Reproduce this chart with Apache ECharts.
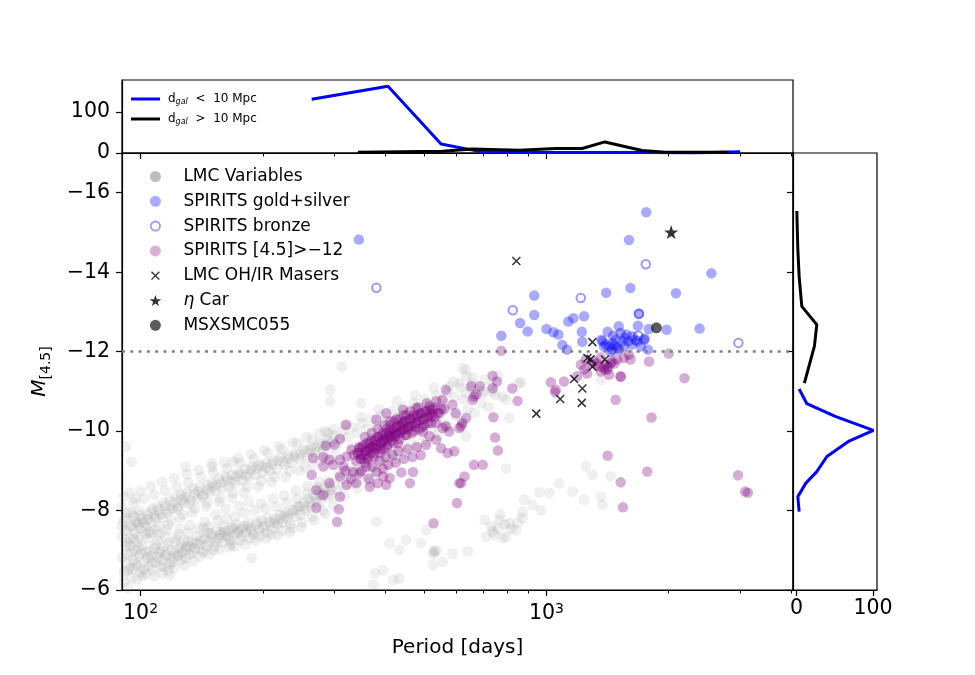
<!DOCTYPE html>
<html>
<head>
<meta charset="utf-8">
<script src="https://cdn.jsdelivr.net/npm/echarts@6/dist/echarts.min.js"></script>
<style>
  html, body { margin: 0; padding: 0; background: #fff; }
  #chart { width: 975px; height: 675px; }
</style>
</head>
<body>
<div id="chart"></div>
<script>
const FONT = 'DejaVu Sans'

// ---- tick values ----
const xMajorTicks = [100, 1000]
const xMinorTicks = [200, 300, 400, 500, 600, 700, 800, 900, 2000, 3000, 4000]
const yTicks = [-16, -14, -12, -10, -8, -6]
const topTicks = [0, 100]
const sideTicks = [0, 100]

// ---- scatter data: [period (days), M_[4.5]] ----
const lmcVariables = [
  // lower sequence
  [91,-6.45],[92,-6.7],[93,-6.9],[94,-6.55],[95,-6.3],[96,-6.75],[97,-7.0],[98,-6.6],[99,-6.85],[100,-6.45],
  [102,-6.7],[103,-6.95],[105,-6.6],[106,-6.85],[108,-7.05],[109,-6.7],[111,-6.95],[113,-6.75],[114,-7.1],[116,-6.9],
  [118,-6.65],[119,-7.0],[121,-7.2],[123,-6.85],[125,-7.05],[127,-6.95],[128,-7.25],[130,-7.1],
  [132,-6.9],[134,-7.2],[136,-7.05],[138,-7.35],[140,-7.15],[142,-7.0],[144,-7.3],[146,-7.45],[148,-7.2],[150,-7.35],
  [152,-7.1],[154,-7.5],[156,-7.3],[158,-7.45],[160,-7.6],[162,-7.35],[164,-7.5],[166,-7.25],[168,-7.55],[170,-7.4],
  [172,-7.65],[174,-7.5],[177,-7.35],[179,-7.6],[182,-7.45],[184,-7.7],[187,-7.55],[190,-7.4],[193,-7.65],[196,-7.5],
  [199,-7.75],[202,-7.6],[205,-7.45],[208,-7.7],[211,-7.55],[214,-7.8],[217,-7.65],[220,-7.9],[224,-7.7],[227,-7.95],[230,-7.8],
  [234,-7.65],[237,-8.0],[241,-7.85],[244,-8.1],[248,-7.9],[252,-8.2],[255,-8.0],[259,-8.3],[263,-8.1],[267,-8.4],
  [271,-8.2],[275,-8.45],[279,-8.25],[283,-8.55],[288,-8.35],[292,-8.6],[296,-8.4],[300,-8.7],
  [305,-8.5],[312,-8.8],[318,-8.6],[325,-8.9],[332,-8.7],[340,-9.0],[348,-8.8],[356,-9.1],[365,-8.9],[374,-9.2],
  [383,-9.0],[393,-9.3],[403,-9.15],[414,-9.45],[425,-9.3],[437,-9.6],[450,-9.45],[463,-9.75],[477,-9.6],[492,-9.9],
  [507,-9.75],[523,-10.05],[540,-9.9],[558,-10.2],[576,-10.1],[596,-10.4],[617,-10.25],[640,-10.55],[665,-10.45],[690,-10.7],
  [720,-10.6],[750,-10.9],
  [92,-7.1],[95,-6.95],[98,-7.2],[101,-6.35],[104,-7.3],[107,-6.5],[110,-7.25],[112,-6.6],[115,-7.35],[117,-6.5],
  [120,-6.7],[124,-7.4],[126,-6.75],[129,-6.8],[131,-7.45],[135,-6.95],[139,-7.55],[143,-6.95],[147,-7.6],[151,-7.0],
  [155,-7.75],[159,-7.2],[163,-7.8],[167,-7.15],[171,-7.85],[176,-7.25],[180,-7.95],[186,-7.3],[191,-8.0],[197,-7.35],
  [203,-8.05],[210,-7.4],[216,-8.1],[223,-7.5],[229,-8.2],[236,-7.55],[243,-8.3],[250,-7.7],[257,-8.45],[265,-7.85],
  [273,-8.6],[281,-8.0],[290,-8.75],[298,-8.15],[308,-8.95],[318,-8.35],[330,-9.1],[342,-8.55],[355,-9.3],[368,-8.7],
  [90,-6.82],[91,-6.2],[93,-6.48],[94,-7.12],[96,-6.52],[97,-6.68],[99,-7.08],[100,-6.92],[102,-6.52],[104,-6.81],
  [105,-6.98],[107,-6.72],[109,-7.14],[110,-6.83],[112,-6.97],[114,-6.58],[115,-6.86],[117,-7.17],[119,-6.79],[121,-6.93],
  [122,-7.31],[124,-6.88],[126,-7.12],[129,-7.01],[131,-7.22],[133,-7.08],[137,-7.18],[141,-7.27],[145,-7.12],[149,-7.42],
  [153,-7.24],[157,-7.38],[161,-7.46],[165,-7.33],[169,-7.58],[173,-7.44],[178,-7.52],[183,-7.61],[188,-7.49],[194,-7.72],
  [200,-7.58],[206,-7.81],[213,-7.69],[219,-7.77],[226,-7.86],[233,-7.92],[240,-8.02],[247,-8.11],[254,-8.07],[262,-8.22],
  [270,-8.31],[278,-8.38],[286,-8.47],[295,-8.52],
  [93,-6.05],[96,-7.3],[98,-6.25],[101,-7.12],[103,-6.4],[106,-7.45],[108,-6.35],[111,-7.4],[113,-6.42],[116,-7.52],
  [118,-6.38],[121,-6.55],[125,-7.55],[128,-6.62],[132,-7.63],[135,-6.72],[140,-6.85],[144,-7.72],[148,-6.9],[153,-7.9],
  [157,-7.02],[162,-8.05],[166,-7.08],[171,-7.1],[175,-8.12],[181,-7.15],[185,-8.22],[192,-7.25],[198,-8.18],[204,-7.3],
  [212,-8.3],[218,-7.38],[226,-8.38],[233,-7.45],[241,-8.5],[249,-7.58],[258,-8.62],[268,-7.75],[276,-8.72],[285,-7.92],
  // upper sequence
  [90,-7.35],[91,-7.75],[92,-7.5],[93,-7.95],[94,-7.3],[95,-7.6],[96,-7.85],[97,-7.45],[98,-7.7],[99,-8.0],
  [100,-7.55],[101,-7.8],[103,-7.6],[104,-7.9],[106,-7.7],[107,-8.05],[109,-7.8],[110,-8.1],
  [112,-7.9],[114,-8.2],[116,-7.95],[118,-8.25],[120,-8.05],[122,-8.35],[124,-8.1],[126,-8.4],[128,-8.2],[130,-8.45],
  [133,-8.25],[135,-8.55],[138,-8.3],[140,-8.6],[143,-8.4],[146,-8.65],[148,-8.45],[150,-8.7],
  [153,-8.5],[156,-8.8],[159,-8.55],[162,-8.85],[165,-8.6],[168,-8.9],[171,-8.7],[174,-8.95],[178,-8.75],[181,-9.05],
  [185,-8.85],[188,-9.1],[192,-8.9],[196,-9.15],[200,-8.95],
  [204,-9.2],[208,-9.0],[212,-9.25],[217,-9.05],[221,-9.35],[226,-9.15],[231,-9.4],[236,-9.2],[241,-9.45],[246,-9.3],
  [252,-9.55],[257,-9.35],[263,-9.6],[269,-9.45],[275,-9.7],[281,-9.5],[288,-9.8],[294,-9.6],[300,-9.9],
  [308,-9.75],[316,-10.0],[324,-9.85],[333,-10.1],[342,-9.95],[351,-10.2],[361,-10.05],[371,-10.3],[382,-10.15],[393,-10.4],
  [405,-10.25],[417,-10.5],[430,-10.35],[443,-10.6],[457,-10.45],[471,-10.7],[486,-10.55],[502,-10.8],[518,-10.65],[535,-10.9],
  [553,-10.75],[572,-11.0],[592,-10.85],[612,-11.1],[634,-10.95],[656,-11.2],[680,-11.05],[705,-11.3],[732,-11.15],[760,-11.4],
  [90,-8.1],[93,-7.2],[96,-8.2],[99,-7.35],[102,-8.3],[105,-7.45],[108,-8.4],[111,-7.6],[115,-8.5],[119,-7.75],
  [123,-8.6],[127,-7.9],[131,-8.7],[136,-8.05],[141,-8.85],[146,-8.2],[151,-8.95],[157,-8.3],[163,-9.05],[169,-8.45],
  [176,-9.2],[183,-8.6],[190,-9.3],[198,-8.75],[206,-9.45],[214,-8.85],[223,-9.55],[233,-9.0],[243,-9.7],[254,-9.1],
  [265,-9.8],[277,-9.25],[290,-9.95],[303,-9.4],[318,-10.15],[333,-9.6],[350,-10.35],[368,-9.8],[387,-10.55],[407,-10.0],
  [428,-10.75],[450,-10.2],[475,-10.9],[500,-10.4],[528,-11.1],[560,-10.6],[590,-11.25],[625,-10.8],[660,-11.35],[700,-10.95],
  [90,-7.62],[92,-7.82],[94,-7.58],[95,-7.95],[97,-7.72],[99,-7.64],[100,-7.88],[102,-7.69],[104,-7.78],[106,-7.97],
  [108,-7.86],[111,-8.02],[113,-7.83],[115,-8.12],[118,-8.0],[121,-8.21],[123,-8.05],[126,-8.27],[129,-8.33],[132,-8.18],
  [136,-8.42],[139,-8.48],[142,-8.36],[146,-8.52],[150,-8.59],[154,-8.64],[158,-8.71],[163,-8.77],[167,-8.73],[172,-8.86],
  [177,-8.92],[182,-8.88],[187,-9.02],[193,-9.06],[199,-9.12],[205,-9.08],[211,-9.17],[218,-9.26],[225,-9.22],[232,-9.31],
  [239,-9.36],[247,-9.42],[255,-9.48],[262,-9.52],[270,-9.58],[279,-9.63],[288,-9.7],[297,-9.74],
  [91,-8.35],[94,-8.45],[97,-8.3],[100,-8.5],[103,-7.42],[106,-8.62],[109,-7.52],[113,-8.72],[117,-7.65],[121,-8.82],
  [125,-7.82],[130,-8.92],[134,-7.95],[139,-9.02],[145,-8.1],[150,-9.1],[156,-8.22],[161,-9.22],[168,-8.32],[174,-9.32],
  [180,-8.45],[187,-9.42],[195,-8.6],[202,-9.52],[210,-8.72],[219,-9.62],[228,-8.85],[237,-9.72],[246,-9.0],[256,-9.85],
  [266,-9.15],[276,-9.95],[287,-9.3],[299,-10.05],
  // scattered
  [313,-11.62],[293,-11.04],[293,-10.76],[350,-10.71],[285,-10.0],[129,-9.11],[150,-9.19],[169,-9.23],[95,-9.23],[92,-9.61],
  [188,-6.8],[143,-7.56],
  [737,-7.47],[765,-7.76],[810,-7.68],[873,-7.81],[841,-7.51],[710,-7.34],[795,-7.34],[640,-6.97],[703,-7.76],
  [745,-7.4],[760,-7.55],[780,-7.3],[820,-7.55],[850,-7.7],[770,-7.9],[730,-7.6],[790,-7.65],
  [960,-8.46],[1016,-8.44],[1075,-8.69],[1159,-8.48],[1250,-9.11],[1298,-8.9],[1439,-8.86],[1238,-8.27],[1362,-8.35],[1374,-8.14],
  [873,-7.97],[881,-8.27],[924,-8.14],[969,-8.01],[795,-9.06],
  [381,-7.72],[411,-7.18],[434,-7.01],[451,-7.26],[491,-7.18],[525,-6.97],[555,-6.71],[587,-6.92],[506,-7.51],[525,-6.63],
  [378,-6.42],[396,-6.5],[419,-6.25],[434,-6.29],[374,-6.13],[530,-6.97],[528,-6.9],[535,-7.0],
  [634,-11.54],[621,-11.58],[576,-11.13],[610,-11.21],[634,-11.38],[650,-11.08],[697,-11.0],[737,-11.0],[795,-10.79],[810,-10.33],
  [855,-11.21],[634,-9.87],[1362,-11.29],[865,-11.23],[780,-10.87]
]

const spiritsGoldSilver = [
  [345,-14.82],[1761,-15.51],[1597,-14.81],[2549,-13.97],[933,-13.41],[1610,-13.6],[1403,-13.48],[2085,-13.47],
  [933,-12.92],[861,-12.72],[774,-12.40],[899,-12.51],[1000,-12.57],[1040,-12.49],[1070,-12.43],[1132,-12.76],
  [1165,-12.84],[1238,-12.89],[1222,-12.50],[1225,-12.25],[1094,-12.17],[1124,-12.05],[1690,-12.96],[1680,-12.65],
  [1787,-12.57],[1977,-12.55],[2384,-12.58],[1778,-12.05],[1745,-12.33],[1507,-12.64],[1415,-12.50],[1367,-12.30],
  [1386,-12.13],[1453,-12.05],
  [1523,-12.47],[1576,-12.43],[1628,-12.39],[1655,-12.30],[1592,-12.26],[1538,-12.26],[1481,-12.30],[1453,-12.22],
  [1427,-12.13],[1400,-12.18],[1374,-12.26],[1440,-11.99],[1494,-12.09],[1552,-12.13],[1625,-12.18],[1673,-12.26],
  [1740,-12.30],[1710,-12.13],[1470,-12.15],[1510,-12.05],[1460,-12.4],[1560,-12.35]
]

const spiritsBronze = [
  [1215,-13.35],[1690,-12.95],[1683,-12.40],[1757,-14.2],[826,-13.04],[2971,-12.22],[381,-13.61]
]

const spiritsFaint = [
  // main cluster
  [266,-9.32],[282,-9.35],[264,-8.90],[282,-9.11],[298,-9.15],[292,-8.69],[310,-8.86],[322,-8.65],[271,-8.52],[282,-8.39],
  [310,-8.35],[271,-8.07],[308,-8.03],[305,-7.71],[340,-8.69],[367,-8.60],[384,-8.69],[403,-8.65],[439,-8.96],[469,-8.97],
  [461,-8.69],[360,-9.11],[381,-8.97],[396,-8.86],[411,-8.82],[316,-9.11],[334,-8.97],[346,-8.94],[322,-9.36],[310,-9.28],
  [292,-9.28],[367,-9.57],[346,-9.57],[331,-9.53],[321,-10.16],[310,-9.81],[286,-9.63],[301,-9.66],
  [396,-9.78],[411,-9.87],[426,-9.95],[443,-10.03],[460,-10.12],[478,-10.2],[496,-10.29],[515,-10.37],
  [381,-10.29],[403,-10.45],[443,-10.54],[478,-10.58],[515,-10.62],[525,-10.54],[555,-10.79],[565,-11.04],[587,-10.66],
  [598,-10.45],[565,-10.12],[621,-10.2],[610,-10.08],[535,-10.2],[555,-10.08],[576,-9.99],[496,-9.99],[515,-9.87],
  [535,-9.78],[550,-9.57],[571,-9.45],[593,-9.49],[658,-10.79],[671,-10.92],[652,-11.13],[663,-9.15],[697,-9.15],
  [628,-8.86],[610,-8.69],[602,-8.19],[527,-7.68],
  [335,-9.4],[340,-9.25],[345,-9.45],[350,-9.3],[352,-9.6],[356,-9.4],[360,-9.5],[362,-9.3],[366,-9.7],[370,-9.45],
  [372,-9.6],[375,-9.35],[378,-9.75],[380,-9.55],[384,-9.85],[386,-9.6],[389,-9.45],[392,-9.7],[395,-9.95],[398,-9.55],
  [400,-9.8],[404,-10.05],[406,-9.65],[409,-9.9],[412,-10.15],[415,-9.75],[418,-10.0],[421,-10.25],[424,-9.85],[428,-10.1],
  [431,-9.7],[434,-10.3],[437,-9.95],[440,-10.15],[446,-10.25],[449,-9.9],[452,-10.4],[456,-10.05],[462,-10.3],[466,-9.95],
  [470,-10.4],[474,-10.1],[482,-10.35],[486,-10.05],[490,-10.45],[500,-10.15],[505,-10.5],[510,-10.2],[520,-10.45],[530,-10.35],
  [545,-10.45],[560,-10.55],
  [342,-9.45],[346,-9.6],[350,-9.4],[354,-9.65],[358,-9.5],[362,-9.7],[366,-9.55],[370,-9.75],[374,-9.6],[378,-9.8],
  [382,-9.65],[386,-9.85],[390,-9.7],[394,-9.9],[398,-9.75],[402,-9.95],[406,-9.8],[410,-10.0],[414,-9.85],[418,-10.05],
  [422,-9.9],[426,-10.1],[430,-9.95],[434,-10.15],[438,-10.0],[442,-10.2],[446,-10.05],[450,-10.25],[455,-10.1],[460,-10.3],
  [465,-10.15],[470,-10.35],[475,-10.2],[480,-10.4],[486,-10.25],[492,-10.45],[498,-10.3],[504,-10.5],[510,-10.35],[517,-10.55],
  [524,-10.4],[532,-10.6],[540,-10.45],[550,-10.55],
  [348,-9.3],[357,-9.85],[364,-9.35],[371,-9.95],[377,-9.45],[384,-10.05],[391,-9.55],[399,-10.15],[405,-9.6],[412,-10.25],
  [420,-9.7],[427,-10.3],[435,-9.8],[444,-10.4],[452,-9.9],[462,-10.5],[472,-10.0],[483,-10.6],[495,-10.1],[507,-10.7],
  [520,-10.2],[535,-10.75],
  [350,-9.0],[357,-9.2],[365,-8.8],[372,-9.1],[388,-9.25],[395,-9.05],[402,-9.35],[408,-9.15],[418,-9.4],[425,-9.2],
  [432,-9.5],[445,-9.3],[455,-9.55],[468,-9.35],[480,-9.6],[490,-9.4],[505,-9.65],[330,-8.8],[320,-9.0],
  // outliers
  [774,-12.02],[2000,-11.95],[1790,-11.75],[2188,-11.33],[1524,-11.37],[1481,-10.79],[1815,-10.34],[1415,-9.38],
  [1772,-8.98],[1524,-8.71],[1543,-8.08],[2965,-8.89],[3088,-8.48],[3135,-8.45],
  [1025,-11.23],[1054,-11.04],[1105,-11.25],[1050,-10.98],[1190,-11.38],
  [737,-11.39],[755,-11.25],[663,-10.87],[737,-11.08],[740,-10.35],[824,-11.07],[849,-10.76],[747,-9.84],[759,-9.51],
  [685,-11.13],[634,-10.33],[616,-10.12],[616,-8.69],
  [1215,-11.67],[1250,-11.80],[1309,-11.76],[1348,-11.63],[1400,-11.67],[1440,-11.71],[1494,-11.80],[1552,-11.84],
  [1597,-11.92],[1611,-11.80],[1413,-11.55],[1362,-11.50],[1427,-11.42],[1523,-11.38],
  [1380,-11.6],[1395,-11.55],[1420,-11.62],[1450,-11.75],[1470,-11.7],[1330,-11.7],[1360,-11.85],[1290,-11.7],
  [1260,-11.45],[1240,-11.55]
]

const lmcMasers = [
  [843,-14.28],[1298,-12.24],[1262,-11.84],[1285,-11.81],[1298,-11.62],[1393,-11.8],
  [1170,-11.31],[1226,-11.07],[1081,-10.81],[1222,-10.71],[944,-10.44]
]
const etaCar = [[2029,-15.01]]
const msxsmc055 = [[1866,-12.6]]

// ---- histograms ----
// top panel: counts per period bin
const topNearP = [264, 407, 550, 683, 850, 1050, 1400, 1720, 2300, 3000]
const topNearN = [131, 163, 22, 4, 1, 1, 1, 1, 0, 3]
const topFarP = [343, 555, 656, 857, 1054, 1225, 1393, 1721, 1964, 2810]
const topFarN = [2, 4, 10, 7, 11, 11, 27, 6, 2, 2]
// right panel: counts per magnitude bin
const sideNearM = [-11.06, -10.69, -10.37, -10.02, -9.74, -9.36, -8.98, -8.69, -8.35, -7.97]
const sideNearN = [3.5, 13.6, 50.7, 100.6, 67.9, 39.8, 26.6, 12.3, 1.8, 3.5]
const sideFarM = [-15.54, -14.58, -13.9, -13.14, -12.68, -12.14, -11.21]
const sideFarN = [0.5, 1.8, 3.5, 7, 26.6, 23.5, 10.4]

const X_PATH = 'path://M0,0L10,10M0,10L10,0'
const X_LEGEND = 'path://M-2,-2M12,12M0,0L10,10M0,10L10,0'
const STAR = 'path://M50,0L61.8,35.1L97.6,34.5L68.8,56.9L79.4,90.5L50,70L20.6,90.5L31.2,56.9L2.4,34.5L38.2,35.1Z'

const minus = v => (v < 0 ? '\u2212' : '') + Math.abs(v)

const chart = echarts.init(document.getElementById('chart'))

const TICK_FS = 20.5
const frame = { show: true, borderColor: '#000', borderWidth: 1.2, backgroundColor: 'transparent' }
const lineStyle = { color: '#000', width: 1.2 }
const tickStyle = { color: '#000', width: 1.2 }
const labelStyle = { color: '#000', fontFamily: FONT, fontSize: TICK_FS }

// log x axis (main + top)
function logAxis(gridIndex, showLabels) {
  return {
    type: 'log', logBase: 10, gridIndex, min: 90, max: 4050, position: 'bottom',
    axisLine: { show: true, onZero: false, lineStyle },
    axisTick: { show: true, length: 6, lineStyle: tickStyle, customValues: xMajorTicks },
    axisLabel: {
      show: showLabels, customValues: xMajorTicks, margin: 12,
      formatter: v => '{b|10}{s|' + Math.round(Math.log10(v)) + '}',
      rich: {
        b: { fontFamily: FONT, fontSize: TICK_FS, color: '#000', lineHeight: 24 },
        s: { fontFamily: FONT, fontSize: 14, color: '#000', lineHeight: 14, verticalAlign: 'top' }
      }
    },
    splitLine: { show: false }
  }
}
function minorAxis(gridIndex) {
  return {
    type: 'log', logBase: 10, gridIndex, min: 90, max: 4050, position: 'bottom',
    axisLine: { show: false },
    axisTick: { show: true, length: 3.5, lineStyle: { color: '#000', width: 1 }, customValues: xMinorTicks },
    axisLabel: { show: false },
    splitLine: { show: false }
  }
}

const main = logAxis(0, true)
main.name = 'Period [days]'
main.nameLocation = 'middle'
main.nameGap = 48
main.nameTextStyle = { fontFamily: FONT, fontSize: 20, color: '#000' }

const option = {
  animation: false,
  backgroundColor: '#fff',
  grid: [
    Object.assign({ left: 122, top: 153, width: 671, height: 437, outerBoundsMode: 'none' }, frame),
    Object.assign({ left: 122, top: 80, width: 671, height: 73, outerBoundsMode: 'none' }, frame),
    Object.assign({ left: 793, top: 153, width: 84, height: 437, outerBoundsMode: 'none' }, frame)
  ],
  xAxis: [
    main,
    minorAxis(0),
    logAxis(1, false),
    minorAxis(1),
    {
      type: 'value', gridIndex: 2, min: -4.5, max: 105.3, position: 'bottom',
      axisLine: { show: true, onZero: false, lineStyle },
      axisTick: { show: true, length: 6, lineStyle: tickStyle, customValues: sideTicks },
      axisLabel: Object.assign({ customValues: sideTicks, margin: 8 }, labelStyle),
      splitLine: { show: false }
    }
  ],
  yAxis: [
    {
      type: 'value', gridIndex: 0, min: -17, max: -6, inverse: true,
      axisLine: { show: true, onZero: false, lineStyle },
      axisTick: { show: true, length: 6, lineStyle: tickStyle, customValues: yTicks },
      axisLabel: Object.assign({ customValues: yTicks, margin: 12, formatter: minus }, labelStyle),
      splitLine: { show: false },
      name: '{i|M}{s|[4.5]}', nameLocation: 'middle', nameGap: 69, nameRotate: 90,
      nameTextStyle: {
        rich: {
          i: { fontFamily: FONT, fontSize: 20, fontStyle: 'italic', color: '#000', lineHeight: 26 },
          s: { fontFamily: FONT, fontSize: 14, color: '#000', lineHeight: 12, verticalAlign: 'bottom' }
        }
      }
    },
    {
      type: 'value', gridIndex: 1, min: 0, max: 178,
      axisLine: { show: true, onZero: false, lineStyle },
      axisTick: { show: true, length: 6, lineStyle: tickStyle, customValues: topTicks },
      axisLabel: Object.assign({ customValues: topTicks, margin: 12 }, labelStyle),
      splitLine: { show: false }
    },
    {
      type: 'value', gridIndex: 2, min: -17, max: -6, inverse: true,
      axisLine: { show: true, onZero: false, lineStyle },
      axisTick: { show: true, length: 6, lineStyle: tickStyle, customValues: yTicks },
      axisLabel: { show: false },
      splitLine: { show: false }
    }
  ],
  legend: [
    {
      orient: 'vertical', left: 126, top: 88, itemWidth: 29, itemHeight: 3, itemGap: 7,
      selectedMode: false,
      formatter: name => name === 'near'
        ? '{a|d}{s|gal}{a|  <  10 Mpc}'
        : '{a|d}{s|gal}{a|  >  10 Mpc}',
      textStyle: {
        padding: [0, 0, 0, 3],
        rich: {
          a: { fontFamily: FONT, fontSize: 12, color: '#000', lineHeight: 14 },
          s: { fontFamily: FONT, fontSize: 8, fontStyle: 'italic', color: '#000', lineHeight: 7, verticalAlign: 'bottom' }
        }
      },
      data: [
        { name: 'near', icon: 'rect', itemStyle: { color: '#0000ff' } },
        { name: 'far', icon: 'rect', itemStyle: { color: '#000' } }
      ]
    },
    {
      orient: 'vertical', left: 144, top: 163, itemWidth: 46, itemHeight: 11, itemGap: 7.8,
      selectedMode: false,
      formatter: name => name === '\u03b7 Car' ? '{i|\u03b7} Car' : name,
      textStyle: {
        fontFamily: FONT, fontSize: 17, color: '#000', lineHeight: 17,
        rich: { i: { fontFamily: FONT, fontSize: 17, fontStyle: 'italic', color: '#000', lineHeight: 17 } }
      },
      data: [
        { name: 'LMC Variables', icon: 'circle', itemStyle: { color: 'rgba(128,128,128,0.65)' } },
        { name: 'SPIRITS gold+silver', icon: 'circle', itemStyle: { color: 'rgba(0,0,255,0.42)' } },
        { name: 'SPIRITS bronze', icon: 'path://M-1,-1M11,11M0,5A5,5,0,1,0,10,5A5,5,0,1,0,0,5Z', itemStyle: { color: 'rgba(0,0,0,0)', borderColor: 'rgba(0,0,255,0.5)', borderWidth: 1.8 } },
        { name: 'SPIRITS [4.5]>\u221212', icon: 'circle', itemStyle: { color: 'rgba(128,0,128,0.38)' } },
        { name: 'LMC OH/IR Masers', icon: X_LEGEND, itemStyle: { color: 'rgba(0,0,0,0)', borderColor: '#000', borderWidth: 1.4 } },
        { name: '\u03b7 Car', icon: STAR, itemStyle: { color: '#000' } },
        { name: 'MSXSMC055', icon: 'circle', itemStyle: { color: 'rgba(0,0,0,0.8)' } }
      ]
    }
  ],
  series: [
    {
      name: 'LMC Variables', type: 'scatter', xAxisIndex: 0, yAxisIndex: 0,
      data: lmcVariables, symbol: 'circle', symbolSize: 11,
      itemStyle: { color: 'rgba(128,128,128,0.15)' }, silent: true
    },
    {
      name: 'SPIRITS gold+silver', type: 'scatter', xAxisIndex: 0, yAxisIndex: 0,
      data: spiritsGoldSilver, symbol: 'circle', symbolSize: 10.5,
      itemStyle: { color: 'rgba(0,0,255,0.42)' }, silent: true
    },
    {
      name: 'SPIRITS bronze', type: 'scatter', xAxisIndex: 0, yAxisIndex: 0,
      data: spiritsBronze, symbol: 'circle', symbolSize: 8.5,
      itemStyle: { color: 'rgba(0,0,0,0)', borderColor: 'rgba(0,0,255,0.5)', borderWidth: 2 }, silent: true
    },
    {
      name: 'SPIRITS [4.5]>\u221212', type: 'scatter', xAxisIndex: 0, yAxisIndex: 0,
      data: spiritsFaint, symbol: 'circle', symbolSize: 10.5,
      itemStyle: { color: 'rgba(128,0,128,0.4)' }, silent: true,
      markLine: {
        silent: true, symbol: 'none', label: { show: false },
        lineStyle: { color: '#808080', width: 2.6, type: [3, 5.3] },
        data: [{ yAxis: -12 }]
      }
    },
    {
      name: 'LMC OH/IR Masers', type: 'scatter', xAxisIndex: 0, yAxisIndex: 0,
      data: lmcMasers, symbol: X_PATH, symbolSize: 8,
      itemStyle: { color: 'rgba(0,0,0,0)', borderColor: '#000', borderWidth: 1.5 }, silent: true
    },
    {
      name: '\u03b7 Car', type: 'scatter', xAxisIndex: 0, yAxisIndex: 0,
      data: etaCar, symbol: STAR, symbolSize: 14,
      itemStyle: { color: '#000' }, silent: true
    },
    {
      name: 'MSXSMC055', type: 'scatter', xAxisIndex: 0, yAxisIndex: 0,
      data: msxsmc055, symbol: 'circle', symbolSize: 11,
      itemStyle: { color: 'rgba(0,0,0,0.8)' }, silent: true
    },
    {
      name: 'near', type: 'line', xAxisIndex: 2, yAxisIndex: 1,
      data: topNearP.map((p, i) => [p, topNearN[i]]),
      showSymbol: false, lineStyle: { color: '#0000ff', width: 3 }, itemStyle: { color: '#0000ff' }, silent: true
    },
    {
      name: 'far', type: 'line', xAxisIndex: 2, yAxisIndex: 1,
      data: topFarP.map((p, i) => [p, topFarN[i]]),
      showSymbol: false, lineStyle: { color: '#000', width: 3 }, itemStyle: { color: '#000' }, silent: true
    },
    {
      name: 'sideNear', type: 'line', xAxisIndex: 4, yAxisIndex: 2,
      data: sideNearM.map((m, i) => [sideNearN[i], m]),
      showSymbol: false, lineStyle: { color: '#0000ff', width: 3 }, silent: true
    },
    {
      name: 'sideFar', type: 'line', xAxisIndex: 4, yAxisIndex: 2,
      data: sideFarM.map((m, i) => [sideFarN[i], m]),
      showSymbol: false, lineStyle: { color: '#000', width: 3 }, silent: true
    }
  ]
}

chart.setOption(option)
</script>
</body>
</html>
